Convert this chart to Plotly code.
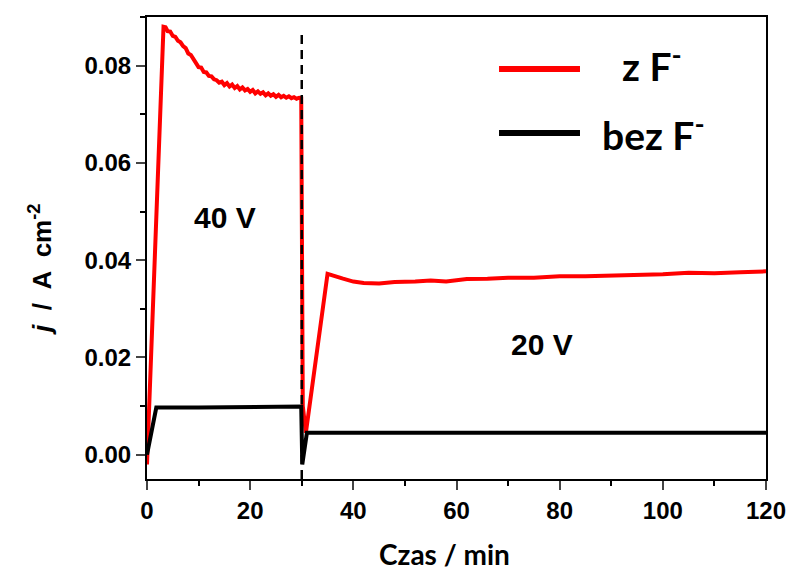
import plotly.graph_objects as go

# ---- data ----
red_x = [0, 3.2, 3.6, 4.0, 4.5, 5.0, 5.5, 6.0, 6.5, 7.0, 7.5, 8.0, 8.5, 9.0, 9.5, 10.0,
         10.5, 11.0, 11.5, 12.0, 12.5, 13.0, 13.5, 14.0, 14.5, 15.0, 15.5, 16.0, 16.5,
         17.0, 17.5, 18.0, 18.5, 19.0, 19.5, 20.0, 20.5, 21.0, 21.5, 22.0, 22.5, 23.0,
         23.5, 24.0, 24.5, 25.0, 25.5, 26.0, 26.5, 27.0, 27.5, 28.0, 28.5, 29.0, 29.5,
         29.9, 30.2, 30.8, 35.0, 36.5, 38, 40, 42, 45, 48, 52, 55, 58, 62, 66, 70, 75,
         80, 85, 90, 95, 100, 105, 110, 115, 120]
red_y = [-0.002, 0.0880, 0.0879, 0.0871, 0.0870, 0.0861, 0.0859, 0.0851, 0.0848, 0.0840,
         0.0836, 0.0825, 0.0822, 0.0813, 0.0808, 0.0797, 0.0796, 0.0787, 0.0786, 0.0779,
         0.0778, 0.0772, 0.0770, 0.0765, 0.0767, 0.0760, 0.0764, 0.0757, 0.0761, 0.0754,
         0.0758, 0.0751, 0.0755, 0.0749, 0.0752, 0.0746, 0.0750, 0.0743, 0.0747, 0.0742,
         0.0745, 0.0739, 0.0743, 0.0738, 0.0741, 0.0736, 0.0740, 0.0735, 0.0738, 0.0734,
         0.0737, 0.0733, 0.0735, 0.0732, 0.0734, 0.0733,
         0.0100, 0.0045, 0.0372, 0.0368, 0.0362, 0.0356, 0.0353, 0.0352, 0.0355, 0.0356,
         0.0358, 0.0356, 0.0361, 0.0362, 0.0364, 0.0364, 0.0367, 0.0367, 0.0368, 0.0370,
         0.0371, 0.0374, 0.0373, 0.0375, 0.0377]

black_x = [0, 1.8, 10, 20, 29.9, 30.1, 31.0, 120]
black_y = [0.0, 0.0097, 0.0097, 0.0098, 0.0099, -0.002, 0.0045, 0.0045]

marker_x = [30, 30]
marker_y = [-0.005, 0.0875]

x_ticks = [0, 20, 40, 60, 80, 100, 120]
y_ticks = [0.00, 0.02, 0.04, 0.06, 0.08]

series_names = ["z F<sup>-</sup>", "bez F<sup>-</sup>"]
region_labels = ["40 V", "20 V"]
region_pos = [(15.2, 0.0487), (76.6, 0.0226)]

# ---- figure ----
fig = go.Figure()
fig.add_trace(go.Scatter(x=red_x, y=red_y, mode="lines",
                         line=dict(color="#ff0000", width=4), showlegend=False))
fig.add_trace(go.Scatter(x=marker_x, y=marker_y, mode="lines",
                         line=dict(color="black", width=2.5, dash="9px,6px"), showlegend=False))
fig.add_trace(go.Scatter(x=black_x, y=black_y, mode="lines",
                         line=dict(color="black", width=4), showlegend=False))

tickfont = dict(family="Liberation Sans, Arial", size=24, color="black", weight="bold")

fig.update_xaxes(range=[0, 120], tickvals=x_ticks, ticks="outside", ticklen=9, tickwidth=2,
                 showline=True, linewidth=2, linecolor="black", mirror=True, automargin=False,
                 showgrid=False, zeroline=False, tickfont=tickfont,
                 minor=dict(dtick=10, ticks="outside", ticklen=5, tickwidth=2, tickcolor="black"))
fig.update_yaxes(range=[-0.005, 0.090], tickvals=y_ticks, tickformat=".2f",
                 ticks="outside", ticklen=9, tickwidth=2, automargin=False,
                 showline=True, linewidth=2, linecolor="black", mirror=True,
                 showgrid=False, zeroline=False, tickfont=tickfont,
                 minor=dict(dtick=0.01, tick0=0, ticks="outside", ticklen=5, tickwidth=2,
                            tickcolor="black"))

annotations = []
for lab, (ax_, ay_) in zip(region_labels, region_pos):
    annotations.append(dict(x=ax_, y=ay_, xref="x", yref="y", text=lab, showarrow=False,
                            font=dict(family="Liberation Sans, Arial", size=30,
                                      color="black", weight="bold"),
                            xanchor="center", yanchor="middle"))

# axis titles
annotations.append(dict(x=-0.1729, y=0.4545, xref="paper", yref="paper",
                        text="<i>j</i>  /  A  cm<sup>-2</sup>", textangle=-90, showarrow=False,
                        font=dict(family="Liberation Sans, Arial", size=26, color="black",
                                  weight="bold"),
                        xanchor="center", yanchor="middle"))
annotations.append(dict(x=0.4814, y=-0.2035, xref="paper", yref="paper",
                        text="Czas / min", showarrow=False,
                        font=dict(family="Lato", size=28, color="black", weight="bold"),
                        xanchor="center", yanchor="bottom"))

# legend (manual)
legend_colors = ["#ff0000", "black"]
legend_line_y = [0.8874, 0.749]
legend_text_x = [0.764, 0.7318]
legend_text_y = [0.9004, 0.751]
shapes = []
for i in range(2):
    shapes.append(dict(type="line", xref="paper", yref="paper", x0=0.5687, x1=0.6995,
                       y0=legend_line_y[i], y1=legend_line_y[i],
                       line=dict(color=legend_colors[i], width=6)))
    annotations.append(dict(x=legend_text_x[i], y=legend_text_y[i], xref="paper", yref="paper",
                            text=series_names[i], showarrow=False,
                            font=dict(family="Lato", size=39, color="black", weight="bold"),
                            xanchor="left", yanchor="middle"))

fig.update_layout(width=790, height=572, plot_bgcolor="white", paper_bgcolor="white",
                  margin=dict(l=147, r=24, t=17, b=93),
                  annotations=annotations, shapes=shapes, showlegend=False)

fig.write_html("out.html", config={"displayModeBar": False},
               post_script="document.body.style.margin='0';")
